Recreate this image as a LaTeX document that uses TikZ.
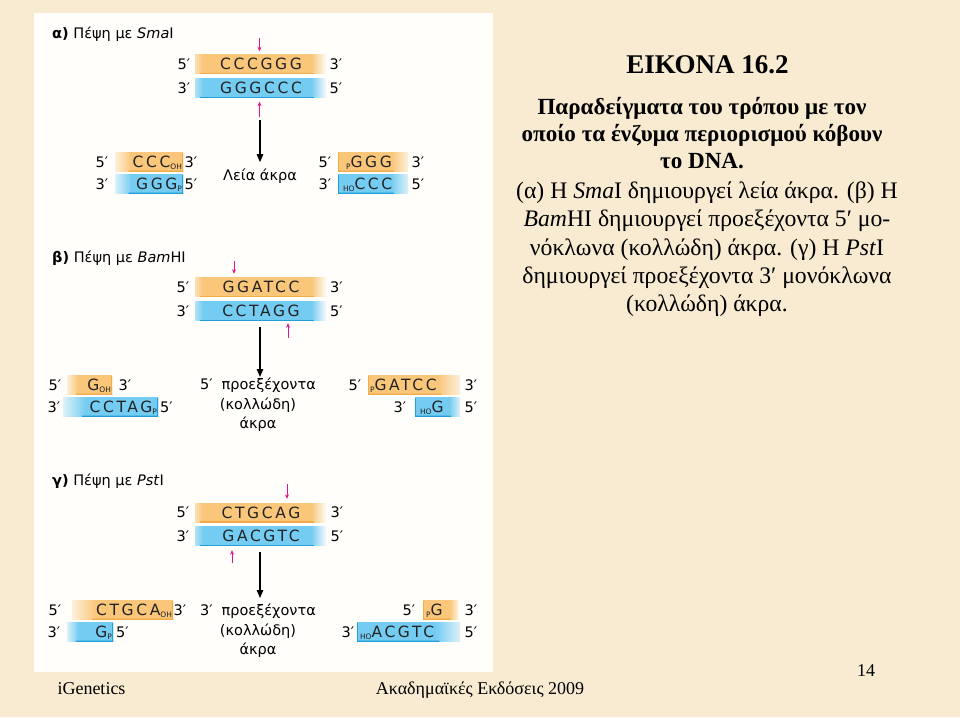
\documentclass[tikz,border=0pt]{standalone}
\usepackage{fontspec}
\setmainfont{Liberation Serif}
\newfontfamily\labelfont{DejaVu Sans}
\newfontfamily\seqfont[LetterSpace=17]{DejaVu Sans}
\usetikzlibrary{arrows.meta,calc}

\definecolor{paper}{HTML}{F8EBD1}
\definecolor{panel}{HTML}{FFFEFA}
\definecolor{strandO}{HTML}{F9C67A}
\definecolor{edgeO}{HTML}{F0AC48}
\definecolor{strandB}{HTML}{74CCF2}
\definecolor{edgeB}{HTML}{229ED8}
\definecolor{ink}{HTML}{222222}
\definecolor{cutpink}{HTML}{E0168A}

% strand shadings: full = both ends fade, cutE = sharp right end, cutW = sharp left end
\pgfdeclarehorizontalshading{ofull}{100bp}{color(0bp)=(panel); color(25bp)=(strandO!55!panel); color(28bp)=(strandO); color(69bp)=(strandO); color(75bp)=(panel); color(100bp)=(panel)}
\pgfdeclarehorizontalshading{ocutE}{100bp}{color(0bp)=(panel); color(25bp)=(strandO!25!panel); color(37bp)=(strandO); color(100bp)=(strandO)}
\pgfdeclarehorizontalshading{ocutW}{100bp}{color(0bp)=(strandO); color(63bp)=(strandO); color(75bp)=(strandO!25!panel); color(100bp)=(panel)}
\pgfdeclarehorizontalshading{bfull}{100bp}{color(0bp)=(panel); color(25bp)=(strandB!55!panel); color(28bp)=(strandB); color(69bp)=(strandB); color(75bp)=(panel); color(100bp)=(panel)}
\pgfdeclarehorizontalshading{bcutE}{100bp}{color(0bp)=(panel); color(25bp)=(strandB!25!panel); color(37bp)=(strandB); color(100bp)=(strandB)}
\pgfdeclarehorizontalshading{bcutW}{100bp}{color(0bp)=(strandB); color(63bp)=(strandB); color(75bp)=(strandB!25!panel); color(100bp)=(panel)}

\newcommand{\lblsize}{\labelfont\fontsize{14.5}{19.5}\selectfont}
\newcommand{\seqsize}{\seqfont\fontsize{15.5}{19}\selectfont}
\newcommand{\termtag}[1]{\raisebox{-1.8pt}[0pt][0pt]{\labelfont\fontsize{7.5}{8}\selectfont#1}}
\newcommand{\edgeline}[3]{\draw[#1, line width=2pt]
  ($(path picture bounding box.south west)!#2!(path picture bounding box.south east)$) --
  ($(path picture bounding box.south west)!#3!(path picture bounding box.south east)$);}
\newcommand{\cutline}[2]{\draw[#1, line width=1.6pt]
  (path picture bounding box.north #2) -- (path picture bounding box.south #2);}

\begin{document}
\begin{tikzpicture}[x=1pt, y=-1pt,
    strand/.style={inner xsep=1pt, inner ysep=0pt, minimum height=19pt,
      font=\seqsize, text=ink},
    ofull/.style={strand, shading=ofull, path picture={\edgeline{edgeO}{.04}{.9}}},
    ocutE/.style={strand, shading=ocutE, path picture={\edgeline{edgeO}{.2}{1}\cutline{edgeO}{east}}},
    ocutW/.style={strand, shading=ocutW, path picture={\edgeline{edgeO}{0}{.8}\cutline{edgeO}{west}}},
    bfull/.style={strand, shading=bfull, path picture={\edgeline{edgeB}{.04}{.9}}},
    bcutE/.style={strand, shading=bcutE, path picture={\edgeline{edgeB}{.2}{1}\cutline{edgeB}{east}}},
    bcutW/.style={strand, shading=bcutW, path picture={\edgeline{edgeB}{0}{.8}\cutline{edgeB}{west}}},
    prime/.style={font=\lblsize, inner sep=0pt},
    heading/.style={font=\lblsize, anchor=base west, inner sep=0pt},
    result/.style={font=\lblsize, align=center, inner sep=0pt, anchor=north},
    cutmark/.style={cutpink, line width=0.9pt, -{Stealth[length=4.5pt,width=4pt]}},
    yields/.style={black, line width=1.3pt, -{Triangle[length=8pt,width=6.5pt]}},
    caption/.style={align=center, inner sep=0pt}]

  \useasboundingbox (0,0) rectangle (960,717);
  \fill[paper] (0,0) rectangle (960,717);
  \fill[panel] (34,13) rectangle (493,672);

  % (a) SmaI
  \node[heading] (smaHead) at (52,38) {\textbf{α)} Πέψη με \textit{Sma}I};
  \node[ofull, minimum width=132] (smaTop) at (261,64) {CCCGGG};
  \node[bfull, minimum width=132] (smaBot) at (261,88) {GGGCCC};
  \node[prime] (smaTop5) at (184,64) {5′};
  \node[prime] (smaTop3) at (336,64) {3′};
  \node[prime] (smaBot3) at (184,88) {3′};
  \node[prime] (smaBot5) at (336,88) {5′};
  \coordinate (smaCutA) at (259.5,38);
  \coordinate (smaCutB) at (259.5,117);
  \draw[cutmark, shorten >=3pt] (smaCutA) -- (smaCutA |- smaTop.north);
  \draw[cutmark, shorten >=4pt] (smaCutB) -- (smaCutB |- smaBot.south);
  \coordinate (smaSplit) at (260,120);
  \node[prime, anchor=base] (smaResult) at (260,180) {Λεία άκρα};
  \draw[yields, shorten >=6pt] (smaSplit) -- (smaResult);

  \node[ocutE, minimum width=68, text width=66, align=right] (smaLO) at (149,162) {CCC\termtag{OH}};
  \node[bcutE, minimum width=68, text width=66, align=right] (smaLB) at (149,184) {GGG\termtag{P}};
  \node[prime] (smaL5) at (102,162) {5′};
  \node[prime] (smaL3) at (191,162) {3′};
  \node[prime] (smaL3b) at (102,184) {3′};
  \node[prime] (smaL5b) at (191,184) {5′};
  \node[ocutW, minimum width=70, text width=68, align=left] (smaRO) at (373,162) {\hspace*{7pt}\termtag{P}GGG};
  \node[bcutW, minimum width=70, text width=68, align=left] (smaRB) at (373,184) {\hspace*{4pt}\termtag{HO}CCC};
  \node[prime] (smaR5) at (325,162) {5′};
  \node[prime] (smaR3) at (418,162) {3′};
  \node[prime] (smaR3b) at (325,184) {3′};
  \node[prime] (smaR5b) at (418,184) {5′};

  % (b) BamHI
  \node[heading] (bamHead) at (52,262) {\textbf{β)} Πέψη με \textit{Bam}HI};
  \node[ofull, minimum width=132] (bamTop) at (261,287) {GGATCC};
  \node[bfull, minimum width=132] (bamBot) at (261,311) {CCTAGG};
  \node[prime] (bamTop5) at (183,287) {5′};
  \node[prime] (bamTop3) at (336.5,287) {3′};
  \node[prime] (bamBot3) at (183,311) {3′};
  \node[prime] (bamBot5) at (336.5,311) {5′};
  \coordinate (bamCutA) at (234,261);
  \coordinate (bamCutB) at (288,338);
  \draw[cutmark, shorten >=3.5pt] (bamCutA) -- (bamCutA |- bamTop.north);
  \draw[cutmark, shorten >=2.5pt] (bamCutB) -- (bamCutB |- bamBot.south);
  \coordinate (bamSplit) at (260,327);
  \coordinate (bamJoin) at (260,377);
  \draw[yields] (bamSplit) -- (bamJoin);
  \node[result] (bamResult) at (258,378) {5′\hspace{9pt}προεξέχοντα\\(κολλώδη)\\άκρα};

  \node[ocutE, minimum width=45, text width=43, align=right] (bamLO) at (89.5,385) {G\termtag{OH}};
  \node[bcutE, minimum width=95, text width=93, align=right] (bamLB) at (110.5,407) {CCTAG\termtag{P}};
  \node[prime] (bamL5) at (55,385) {5′};
  \node[prime] (bamL3) at (125,385) {3′};
  \node[prime] (bamL3b) at (54,407) {3′};
  \node[prime] (bamL5b) at (166.5,407) {5′};
  \node[ocutW, minimum width=92, text width=90, align=left] (bamRO) at (414,385) {\hspace*{1pt}\termtag{P}GATCC};
  \node[bcutW, minimum width=45, text width=43, align=left] (bamRB) at (437.5,407) {\hspace*{4pt}\termtag{HO}G};
  \node[prime] (bamR5) at (355,385) {5′};
  \node[prime] (bamR3) at (471,385) {3′};
  \node[prime] (bamR3b) at (400,407) {3′};
  \node[prime] (bamR5b) at (471,407) {5′};

  % (c) PstI
  \node[heading] (pstHead) at (52,485) {\textbf{γ)} Πέψη με \textit{Pst}I};
  \node[ofull, minimum width=132] (pstTop) at (261,512.5) {CTGCAG};
  \node[bfull, minimum width=132] (pstBot) at (261,536) {GACGTC};
  \node[prime] (pstTop5) at (183,512.5) {5′};
  \node[prime] (pstTop3) at (337,512.5) {3′};
  \node[prime] (pstBot3) at (183,536) {3′};
  \node[prime] (pstBot5) at (337,536) {5′};
  \coordinate (pstCutA) at (287,484);
  \coordinate (pstCutB) at (232,563);
  \draw[cutmark, shorten >=4pt] (pstCutA) -- (pstCutA |- pstTop.north);
  \draw[cutmark, shorten >=4.5pt] (pstCutB) -- (pstCutB |- pstBot.south);
  \coordinate (pstSplit) at (260,552);
  \coordinate (pstJoin) at (260,598);
  \draw[yields] (pstSplit) -- (pstJoin);
  \node[result] (pstResult) at (258,604) {3′\hspace{9pt}προεξέχοντα\\(κολλώδη)\\άκρα};

  \node[ocutE, minimum width=101, text width=99, align=right] (pstLO) at (122.5,610) {CTGCA\termtag{OH}};
  \node[bcutE, minimum width=46, text width=44, align=right] (pstLB) at (90,632) {G\termtag{P}};
  \node[prime] (pstL5) at (55,610) {5′};
  \node[prime] (pstL3) at (180,610) {3′};
  \node[prime] (pstL3b) at (54,632) {3′};
  \node[prime] (pstL5b) at (122.5,632) {5′};
  \node[ocutW, minimum width=35, text width=33, align=left] (pstRO) at (440.5,610) {\hspace*{2pt}\termtag{P}G};
  \node[bcutW, minimum width=103, text width=101, align=left] (pstRB) at (408.5,632) {\hspace*{2pt}\termtag{HO}ACGTC};
  \node[prime] (pstR5) at (409,610) {5′};
  \node[prime] (pstR3) at (471,610) {3′};
  \node[prime] (pstR3b) at (348,632) {3′};
  \node[prime] (pstR5b) at (471,632) {5′};

  % caption
  \node[caption, font=\bfseries\fontsize{27}{30}\selectfont] (figNo) at (707.5,64.5) {ΕΙΚΟΝΑ 16.2};
  \node[caption, font=\bfseries\fontsize{23.1}{26.7}\selectfont, anchor=base] (figTitle) at (702,168.3)
    {Παραδείγματα του τρόπου με τον\\οποίο τα ένζυμα περιορισμού κόβουν\\το DNA.};
  \node[caption, font=\fontsize{23.7}{28.35}\selectfont, anchor=base] (figText) at (707,311.7)
    {(α) Η \textit{Sma}I δημιουργεί λεία άκρα. (β) Η\\\textit{Bam}HI δημιουργεί προεξέχοντα 5′ μο-\\νόκλωνα (κολλώδη) άκρα. (γ) Η \textit{Pst}I\\δημιουργεί προεξέχοντα 3′ μονόκλωνα\\(κολλώδη) άκρα.};

  % footer
  \node[caption, font=\fontsize{18}{20}\selectfont, anchor=base] (footBook) at (91.5,694) {iGenetics};
  \node[caption, font=\fontsize{18}{20}\selectfont, anchor=base] (footPub) at (480,694) {Ακαδημαϊκές Εκδόσεις 2009};
  \node[caption, font=\fontsize{18}{20}\selectfont, anchor=base] (footPage) at (866,676) {14};
\end{tikzpicture}
\end{document}
